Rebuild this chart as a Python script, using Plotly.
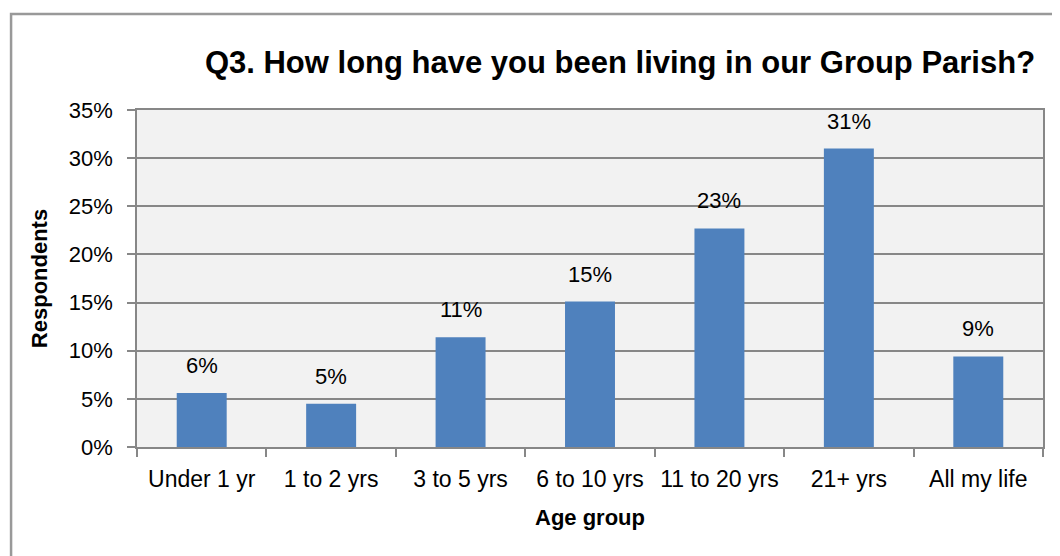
import plotly.graph_objects as go

categories = ["Under 1 yr", "1 to 2 yrs", "3 to 5 yrs", "6 to 10 yrs", "11 to 20 yrs", "21+ yrs", "All my life"]
values = [5.6, 4.5, 11.4, 15.1, 22.7, 31.0, 9.4]
labels = ["6%", "5%", "11%", "15%", "23%", "31%", "9%"]
ytick_vals = [0, 5, 10, 15, 20, 25, 30, 35]
ytick_text = ["0%", "5%", "10%", "15%", "20%", "25%", "30%", "35%"]

FONT = "Liberation Sans, Arial, sans-serif"
GRID = "#878787"

fig = go.Figure(go.Bar(
    x=categories, y=values,
    marker=dict(color="#4f81bd", line=dict(width=0)),
))

for c, v, t in zip(categories, values, labels):
    fig.add_annotation(x=c, y=v, text=t, showarrow=False, yanchor="bottom",
                       yshift=13, font=dict(size=22, family=FONT, color="#000000"))

fig.update_layout(
    width=1060, height=556,
    margin=dict(l=129, r=25, t=102, b=117),
    paper_bgcolor="white", plot_bgcolor="#f2f2f2",
    bargap=0.614,
    showlegend=False,
    font=dict(family=FONT, color="#000000", size=22),
    title=dict(text="<b>Q3. How long have you been living in our Group Parish?</b>",
               x=612 / 1060, xref="container", xanchor="center", y=1 - 54 / 556, yanchor="middle",
               font=dict(size=31, family=FONT, color="#000000")),
    xaxis=dict(
        type="category", tickson="boundaries", ticks="outside", ticklen=8, tickcolor=GRID,
        tickwidth=1.5, showline=True, linecolor=GRID, linewidth=1.5, mirror=True,
        showgrid=False, tickfont=dict(size=23, family=FONT), ticklabelstandoff=11,
        title=dict(text="<b>Age group</b>", font=dict(size=22, family=FONT), standoff=18),
    ),
    yaxis=dict(
        range=[0, 35], tickvals=ytick_vals, ticktext=ytick_text, ticks="outside",
        ticklen=8, tickcolor=GRID, tickwidth=1.5, showline=True, linecolor=GRID,
        linewidth=1.5, mirror=True, showgrid=True, gridcolor=GRID, gridwidth=1.5,
        zeroline=False, tickfont=dict(size=22, family=FONT), ticklabelstandoff=10,
        title=dict(text="<b>Respondents</b>", font=dict(size=22, family=FONT), standoff=15),
    ),
)

fig.add_shape(type="rect", xref="paper", yref="paper",
              x0=-0.139, x1=1.2, y0=-0.6, y1=1.285,
              line=dict(color="#999999", width=2.5), fillcolor="rgba(0,0,0,0)", layer="below")

fig.write_html("out.html")
